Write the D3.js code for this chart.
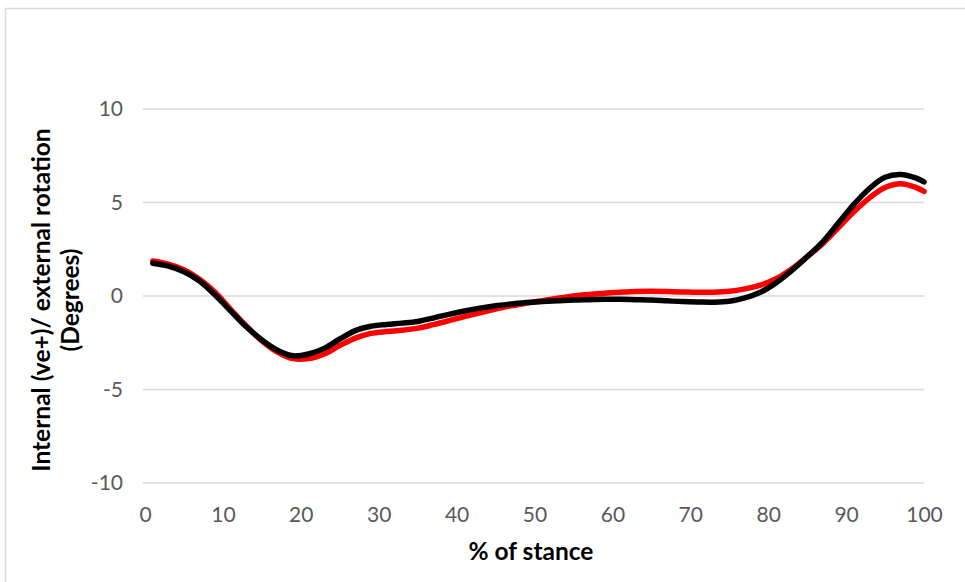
<!DOCTYPE html>
<html>
<head>
<meta charset="utf-8">
<script src="https://cdn.jsdelivr.net/npm/d3@7"></script>
<style>
html,body{margin:0;padding:0;background:#fff;}
svg{display:block;}
</style>
</head>
<body>
<script>
// ---- data ----
const stance = [1,3,5,7,9,11,13,15,17,19,21,23,25,27,29,31,33,35,37,39,41,43,45,47,49,51,53,55,57,59,61,63,65,67,69,71,73,75,77,79,81,83,85,87,89,91,93,95,97,99,100];
const redSeries = [1.87,1.7,1.4,0.9,0.2,-0.72,-1.6,-2.4,-3.0,-3.35,-3.35,-3.1,-2.65,-2.25,-2.0,-1.9,-1.83,-1.72,-1.53,-1.32,-1.1,-0.9,-0.7,-0.52,-0.38,-0.25,-0.12,0.0,0.08,0.15,0.2,0.24,0.25,0.24,0.22,0.2,0.2,0.25,0.38,0.58,0.92,1.45,2.1,2.8,3.65,4.5,5.25,5.8,6.0,5.8,5.6];
const blackSeries = [1.75,1.6,1.3,0.8,0.05,-0.8,-1.65,-2.35,-2.9,-3.2,-3.1,-2.8,-2.3,-1.85,-1.62,-1.52,-1.45,-1.36,-1.18,-0.98,-0.8,-0.65,-0.52,-0.43,-0.35,-0.3,-0.26,-0.22,-0.2,-0.18,-0.18,-0.2,-0.22,-0.26,-0.3,-0.32,-0.33,-0.28,-0.1,0.2,0.7,1.35,2.1,2.9,3.9,4.9,5.75,6.35,6.5,6.3,6.1];
const xTicks = [0,10,20,30,40,50,60,70,80,90,100];
const yTicks = [-10,-5,0,5,10];
const xTitle = "% of stance";
const yTitleLines = ["Internal (ve+)/ external rotation", "(Degrees)"];

// ---- layout ----
const W = 965, H = 582;
const FONT = "Lato, 'Open Sans', sans-serif";
const svg = d3.select("body").append("svg").attr("width", W).attr("height", H);

svg.append("rect").attr("x",5.5).attr("y",8.5).attr("width",980).attr("height",600)
  .attr("fill","#fff").attr("stroke","#d9d9d9").attr("stroke-width",1.5);

const x = d3.scaleLinear().domain([0,100]).range([145,924]);
const y = d3.scaleLinear().domain([-10,10]).range([483,109]);

// gridlines
svg.append("g").selectAll("line").data(yTicks).join("line")
  .attr("x1",143).attr("x2",924)
  .attr("y1",d=>y(d)).attr("y2",d=>y(d))
  .attr("stroke","#d9d9d9").attr("stroke-width",1.3);

// y axis labels
const yAxis = d3.axisLeft(y).tickValues(yTicks).tickSize(0).tickPadding(0).tickFormat(d=>String(d));
const gy = svg.append("g").attr("transform","translate(123,0)").call(yAxis);
gy.select(".domain").remove();
gy.selectAll("text").attr("font-family",FONT).attr("font-size",21).attr("fill","#595959");

// x axis labels
const xAxis = d3.axisBottom(x).tickValues(xTicks).tickSize(0).tickPadding(0).tickFormat(d=>String(d));
const gx = svg.append("g").attr("transform","translate(0,507)").call(xAxis);
gx.select(".domain").remove();
gx.selectAll("text").attr("font-family",FONT).attr("font-size",21).attr("fill","#595959");

// titles
svg.append("text").attr("x",531).attr("y",560).attr("text-anchor","middle")
  .attr("font-family",FONT).attr("font-weight","bold").attr("font-size",24.5)
  .attr("fill","#000").text(xTitle);

const yt = svg.append("text").attr("transform","translate(0,300) rotate(-90)")
  .attr("text-anchor","middle").attr("font-family",FONT)
  .attr("font-weight","bold").attr("font-size",24.5).attr("fill","#000");
yTitleLines.forEach((t,i)=>{
  yt.append("tspan").attr("x",0).attr("y", 50 + i*29).text(t);
});

// lines
const line = d3.line().x((d,i)=>x(stance[i])).y(d=>y(d)).curve(d3.curveCatmullRom.alpha(0.5));
svg.append("path").datum(redSeries).attr("d",line).attr("fill","none")
  .attr("stroke","#ff0000").attr("stroke-width",5.5).attr("stroke-linecap","round");
svg.append("path").datum(blackSeries).attr("d",line).attr("fill","none")
  .attr("stroke","#000000").attr("stroke-width",5.5).attr("stroke-linecap","round");
</script>
</body>
</html>
